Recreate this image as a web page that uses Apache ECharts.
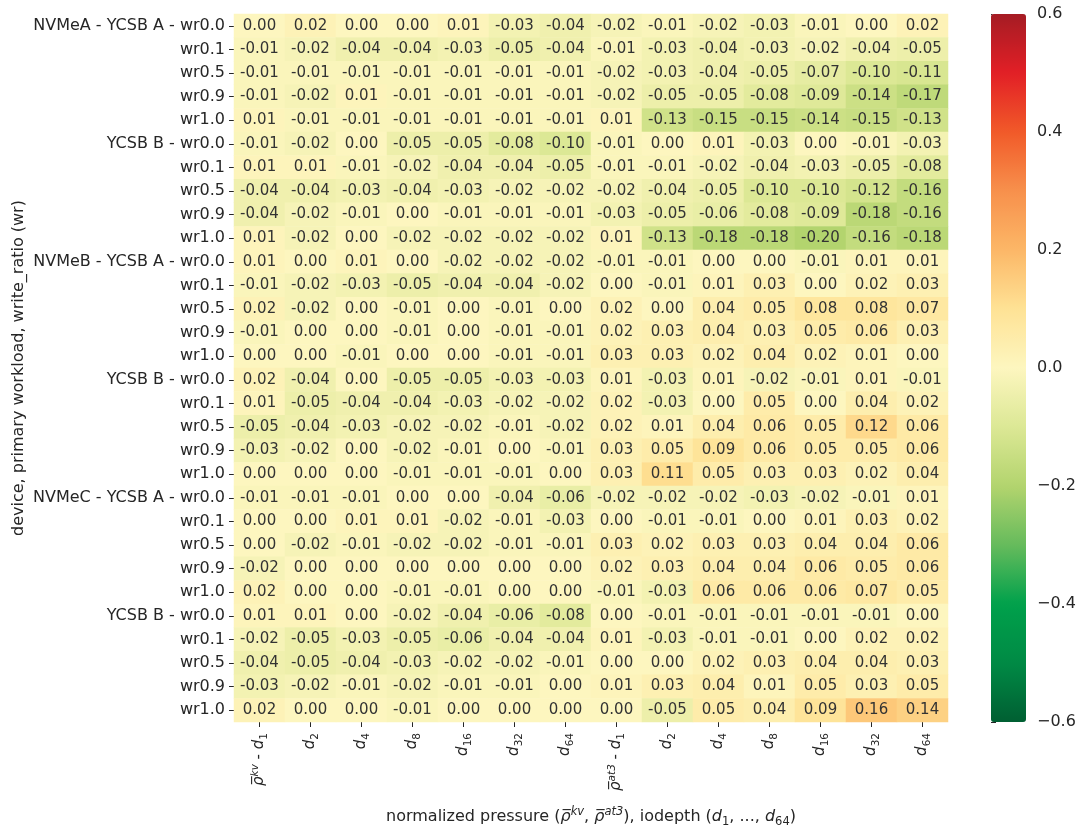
<!DOCTYPE html>
<html>
<head>
<meta charset="utf-8">
<script src="https://cdn.jsdelivr.net/npm/echarts@6/dist/echarts.min.js"></script>
<style>
html,body{margin:0;padding:0;background:#fff;}
#chart{width:1081px;height:825px;}
</style>
</head>
<body>
<div id="chart"></div>
<script>
// ---- categories ----
const devices = ['NVMeA', 'NVMeB', 'NVMeC'];
const workloads = ['YCSB A', 'YCSB B'];
const ratios = ['wr0.0', 'wr0.1', 'wr0.5', 'wr0.9', 'wr1.0'];
const pressures = ['kv', 'at3'];
const depths = ['1', '2', '4', '8', '16', '32', '64'];

// ---- values (rows = write ratio, columns = kv d1..d64, at3 d1..d64) ----
const nvmeA_ycsbA = [
  [0.00, 0.02, 0.00, 0.00, 0.01, -0.03, -0.04, -0.02, -0.01, -0.02, -0.03, -0.01, 0.00, 0.02],
  [-0.01, -0.02, -0.04, -0.04, -0.03, -0.05, -0.04, -0.01, -0.03, -0.04, -0.03, -0.02, -0.04, -0.05],
  [-0.01, -0.01, -0.01, -0.01, -0.01, -0.01, -0.01, -0.02, -0.03, -0.04, -0.05, -0.07, -0.10, -0.11],
  [-0.01, -0.02, 0.01, -0.01, -0.01, -0.01, -0.01, -0.02, -0.05, -0.05, -0.08, -0.09, -0.14, -0.17],
  [0.01, -0.01, -0.01, -0.01, -0.01, -0.01, -0.01, 0.01, -0.13, -0.15, -0.15, -0.14, -0.15, -0.13]
];
const nvmeA_ycsbB = [
  [-0.01, -0.02, 0.00, -0.05, -0.05, -0.08, -0.10, -0.01, 0.00, 0.01, -0.03, 0.00, -0.01, -0.03],
  [0.01, 0.01, -0.01, -0.02, -0.04, -0.04, -0.05, -0.01, -0.01, -0.02, -0.04, -0.03, -0.05, -0.08],
  [-0.04, -0.04, -0.03, -0.04, -0.03, -0.02, -0.02, -0.02, -0.04, -0.05, -0.10, -0.10, -0.12, -0.16],
  [-0.04, -0.02, -0.01, 0.00, -0.01, -0.01, -0.01, -0.03, -0.05, -0.06, -0.08, -0.09, -0.18, -0.16],
  [0.01, -0.02, 0.00, -0.02, -0.02, -0.02, -0.02, 0.01, -0.13, -0.18, -0.18, -0.20, -0.16, -0.18]
];
const nvmeB_ycsbA = [
  [0.01, 0.00, 0.01, 0.00, -0.02, -0.02, -0.02, -0.01, -0.01, 0.00, 0.00, -0.01, 0.01, 0.01],
  [-0.01, -0.02, -0.03, -0.05, -0.04, -0.04, -0.02, 0.00, -0.01, 0.01, 0.03, 0.00, 0.02, 0.03],
  [0.02, -0.02, 0.00, -0.01, 0.00, -0.01, 0.00, 0.02, 0.00, 0.04, 0.05, 0.08, 0.08, 0.07],
  [-0.01, 0.00, 0.00, -0.01, 0.00, -0.01, -0.01, 0.02, 0.03, 0.04, 0.03, 0.05, 0.06, 0.03],
  [0.00, 0.00, -0.01, 0.00, 0.00, -0.01, -0.01, 0.03, 0.03, 0.02, 0.04, 0.02, 0.01, 0.00]
];
const nvmeB_ycsbB = [
  [0.02, -0.04, 0.00, -0.05, -0.05, -0.03, -0.03, 0.01, -0.03, 0.01, -0.02, -0.01, 0.01, -0.01],
  [0.01, -0.05, -0.04, -0.04, -0.03, -0.02, -0.02, 0.02, -0.03, 0.00, 0.05, 0.00, 0.04, 0.02],
  [-0.05, -0.04, -0.03, -0.02, -0.02, -0.01, -0.02, 0.02, 0.01, 0.04, 0.06, 0.05, 0.12, 0.06],
  [-0.03, -0.02, 0.00, -0.02, -0.01, 0.00, -0.01, 0.03, 0.05, 0.09, 0.06, 0.05, 0.05, 0.06],
  [0.00, 0.00, 0.00, -0.01, -0.01, -0.01, 0.00, 0.03, 0.11, 0.05, 0.03, 0.03, 0.02, 0.04]
];
const nvmeC_ycsbA = [
  [-0.01, -0.01, -0.01, 0.00, 0.00, -0.04, -0.06, -0.02, -0.02, -0.02, -0.03, -0.02, -0.01, 0.01],
  [0.00, 0.00, 0.01, 0.01, -0.02, -0.01, -0.03, 0.00, -0.01, -0.01, 0.00, 0.01, 0.03, 0.02],
  [0.00, -0.02, -0.01, -0.02, -0.02, -0.01, -0.01, 0.03, 0.02, 0.03, 0.03, 0.04, 0.04, 0.06],
  [-0.02, 0.00, 0.00, 0.00, 0.00, 0.00, 0.00, 0.02, 0.03, 0.04, 0.04, 0.06, 0.05, 0.06],
  [0.02, 0.00, 0.00, -0.01, -0.01, 0.00, 0.00, -0.01, -0.03, 0.06, 0.06, 0.06, 0.07, 0.05]
];
const nvmeC_ycsbB = [
  [0.01, 0.01, 0.00, -0.02, -0.04, -0.06, -0.08, 0.00, -0.01, -0.01, -0.01, -0.01, -0.01, 0.00],
  [-0.02, -0.05, -0.03, -0.05, -0.06, -0.04, -0.04, 0.01, -0.03, -0.01, -0.01, 0.00, 0.02, 0.02],
  [-0.04, -0.05, -0.04, -0.03, -0.02, -0.02, -0.01, 0.00, 0.00, 0.02, 0.03, 0.04, 0.04, 0.03],
  [-0.03, -0.02, -0.01, -0.02, -0.01, -0.01, 0.00, 0.01, 0.03, 0.04, 0.01, 0.05, 0.03, 0.05],
  [0.02, 0.00, 0.00, -0.01, 0.00, 0.00, 0.00, 0.00, -0.05, 0.05, 0.04, 0.09, 0.16, 0.14]
];
const blocks = [[nvmeA_ycsbA, nvmeA_ycsbB], [nvmeB_ycsbA, nvmeB_ycsbB], [nvmeC_ycsbA, nvmeC_ycsbB]];

// colour bar ticks and range
const cbarMin = -0.6, cbarMax = 0.6, cbarStep = 0.2;
const cmapColors = ['#005f32', '#008a45', '#00a14b', '#66bb5c', '#b3d46e', '#dce895', '#fdf6bf',
                    '#fee295', '#fcb767', '#f7904c', '#f15a29', '#e21f26', '#a51c24'];

// ---- build categories / data ----
const yCats = [];
const rowValues = [];
devices.forEach((dev, di) => {
  workloads.forEach((wl, wi) => {
    ratios.forEach((r, ri) => {
      let lab = r;
      if (ri === 0) lab = (wi === 0 ? dev + ' - ' : '') + wl + ' - ' + r;
      yCats.push(lab);
      rowValues.push(blocks[di][wi][ri]);
    });
  });
});
const xCats = [];
pressures.forEach(p => depths.forEach(d => xCats.push(p + '|' + d)));

const heatData = [];
rowValues.forEach((row, yi) => row.forEach((v, xi) => heatData.push([xi, yi, v])));

const FONT = 'DejaVu Sans';
const TXT = '#262626';
const RHO = '\u03C1\u0305';
const tickRich = {
  d: {fontStyle: 'italic', fontSize: 15, lineHeight: 20, fontFamily: FONT, color: TXT},
  sub: {fontSize: 10.5, lineHeight: 13, verticalAlign: 'bottom', fontFamily: FONT, color: TXT},
  sup: {fontStyle: 'italic', fontSize: 10.5, lineHeight: 13, verticalAlign: 'top', fontFamily: FONT, color: TXT},
  rho: {fontStyle: 'italic', fontSize: 15, lineHeight: 20, fontFamily: FONT, color: TXT},
  t: {fontSize: 15, lineHeight: 20, fontFamily: FONT, color: TXT}
};
const nameRich = {
  d: {fontStyle: 'italic', fontSize: 16, lineHeight: 22, fontFamily: FONT, color: TXT},
  sub: {fontSize: 11.5, lineHeight: 14, verticalAlign: 'bottom', fontFamily: FONT, color: TXT},
  sup: {fontStyle: 'italic', fontSize: 11.5, lineHeight: 14, verticalAlign: 'top', fontFamily: FONT, color: TXT},
  rho: {fontStyle: 'italic', fontSize: 16, lineHeight: 22, fontFamily: FONT, color: TXT},
  t: {fontSize: 16, lineHeight: 22, fontFamily: FONT, color: TXT}
};

const chart = echarts.init(document.getElementById('chart'), null, {renderer: 'canvas'});
chart.setOption({
  backgroundColor: '#fff',
  animation: false,
  textStyle: {fontFamily: FONT},
  grid: [
    {left: 234, top: 14, width: 714, height: 708, containLabel: false, outerBoundsMode: 'none'},
    {left: 991, top: 14, width: 35, height: 708, containLabel: false, outerBoundsMode: 'none'}
  ],
  xAxis: [
    {
      type: 'category', gridIndex: 0, data: xCats, position: 'bottom',
      axisLine: {show: false}, splitLine: {show: false},
      axisTick: {show: true, alignWithLabel: true, length: 5, lineStyle: {color: TXT, width: 1}},
      axisLabel: {
        rotate: 90, margin: 11, interval: 0,
        formatter: function (v) {
          const parts = v.split('|');
          const p = parts[0], d = parts[1];
          let s = '{d|d}{sub|' + d + '}';
          if (d === depths[0]) s = '{rho|' + RHO + '}{sup|' + p + '}{t| - }' + s;
          return s;
        },
        rich: tickRich
      },
      name: '{t|normalized pressure (}{rho|' + RHO + '}{sup|kv}{t|, }{rho|' + RHO + '}{sup|at3}{t|), iodepth (}{d|d}{sub|1}{t|, ..., }{d|d}{sub|64}{t|)}',
      nameLocation: 'middle', nameGap: 84, nameMoveOverlap: false,
      nameTextStyle: {fontSize: 16, color: TXT, rich: nameRich}
    },
    {type: 'value', gridIndex: 1, show: false, min: 0, max: 1}
  ],
  yAxis: [
    {
      type: 'category', gridIndex: 0, data: yCats, inverse: true,
      axisLine: {show: false}, splitLine: {show: false},
      axisTick: {show: true, alignWithLabel: true, length: 5, lineStyle: {color: TXT, width: 1}},
      axisLabel: {interval: 0, fontSize: 16, color: TXT, margin: 9, fontFamily: FONT},
      name: 'device, primary workload, write_ratio (wr)',
      nameLocation: 'middle', nameGap: 207, nameMoveOverlap: false,
      nameTextStyle: {fontSize: 16, color: TXT, fontFamily: FONT}
    },
    {
      type: 'value', gridIndex: 1, position: 'right', min: cbarMin, max: cbarMax, interval: cbarStep,
      axisLine: {show: false}, splitLine: {show: false},
      axisTick: {show: true, length: 5, lineStyle: {color: TXT, width: 1}},
      axisLabel: {
        fontSize: 16, color: TXT, margin: 11, fontFamily: FONT,
        formatter: function (v) {
          if (Math.abs(v) < 1e-9) return '0.0';
          return (v < 0 ? '\u2212' : '') + Math.abs(v).toFixed(1);
        }
      }
    }
  ],
  visualMap: {
    type: 'continuous', min: cbarMin, max: cbarMax, seriesIndex: 0,
    calculable: false, show: true, left: 991, top: 14, padding: 0,
    itemWidth: 35, itemHeight: 708, text: null, hoverLink: false,
    indicatorIcon: 'none', indicatorSize: 0,
    inRange: {color: cmapColors}
  },
  series: [
    {
      type: 'heatmap', xAxisIndex: 0, yAxisIndex: 0, data: heatData,
      itemStyle: {borderWidth: 0},
      label: {
        show: true, fontSize: 15, color: '#333333', fontFamily: FONT,
        formatter: function (p) { return p.value[2].toFixed(2); }
      },
      emphasis: {disabled: true}
    },
    {type: 'scatter', xAxisIndex: 1, yAxisIndex: 1, data: [], silent: true}
  ]
});
</script>
</body>
</html>
